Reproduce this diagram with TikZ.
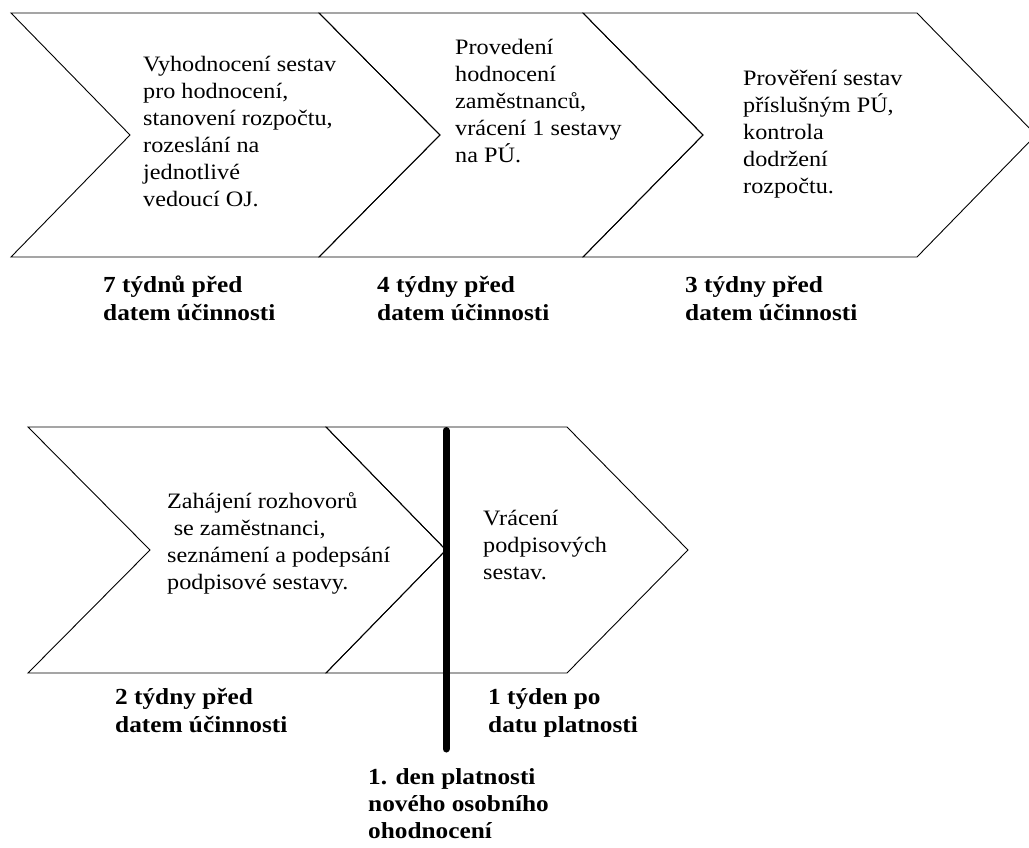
\documentclass[tikz,border=0pt]{standalone}
\usepackage{fontspec}
\setmainfont{Liberation Serif}[FakeStretch=1.1]
\begin{document}
\begin{tikzpicture}[x=1pt,y=-1pt,
  chev/.style={draw=black,line width=0.9pt,line join=miter},
  desc/.style={anchor=north west,align=left,inner sep=0pt,font=\fontsize{22}{27}\selectfont},
  when/.style={anchor=north west,align=left,inner sep=0pt,font=\fontsize{23}{28}\selectfont\bfseries},
  bar/.style={line width=7pt,line cap=round}]
\useasboundingbox (0,0) rectangle (1029,848);
\fill[white] (0,0) rectangle (1029,848);
\clip (0,0) rectangle (1029,848);
% top row chevrons
\draw[chev] (11,13) -- (319,13) -- (440,135) -- (319,257) -- (11,257) -- (130,135) -- cycle;
\draw[chev] (319,13) -- (583,13) -- (703,135) -- (583,257) -- (319,257) -- (440,135) -- cycle;
\draw[chev] (583,13) -- (917,13) -- (1036,135) -- (917,257) -- (583,257) -- (703,135) -- cycle;
% bottom row chevrons
\draw[chev] (28,427) -- (326,427) -- (446,550) -- (326,673) -- (28,673) -- (150,550) -- cycle;
\draw[chev] (326,427) -- (567,427) -- (688,550) -- (567,673) -- (326,673) -- (446,550) -- cycle;
% texts top row
\node[desc] (t1) at (143,56) {Vyhodnocení sestav\\pro hodnocení,\\stanovení rozpočtu,\\rozeslání na\\jednotlivé\\vedoucí OJ.};
\node[desc] (t2) at (455,39) {Provedení\\hodnocení\\zaměstnanců,\\vrácení 1 sestavy\\na PÚ.};
\node[desc] (t3) at (743,70) {Prověření sestav\\příslušným PÚ,\\kontrola\\dodržení\\rozpočtu.};
\node[when] (l1) at (103,276) {7 týdnů před\\datem účinnosti};
\node[when] (l2) at (377,276) {4 týdny před\\datem účinnosti};
\node[when] (l3) at (685,276) {3 týdny před\\datem účinnosti};
% texts bottom row
\node[desc] (b1) at (167,492) {Zahájení rozhovorů\\\hspace*{0.3em}se zaměstnanci,\\seznámení a podepsání\\podpisové sestavy.};
\node[desc] (b2) at (483,510) {Vrácení\\podpisových\\sestav.};
\node[when] (l4) at (115,688) {2 týdny před\\datem účinnosti};
\node[when] (l5) at (488,688) {1 týden po\\datu platnosti};
\node[when,font=\fontsize{23}{27}\selectfont\bfseries] (l6) at (368,768) {1. den platnosti\\nového osobního\\ohodnocení};
% deadline bar
\coordinate (bartop) at (446,430.5);
\coordinate (barbot) at (446,749);
\draw[bar] (bartop) -- (barbot);
\end{tikzpicture}
\end{document}
